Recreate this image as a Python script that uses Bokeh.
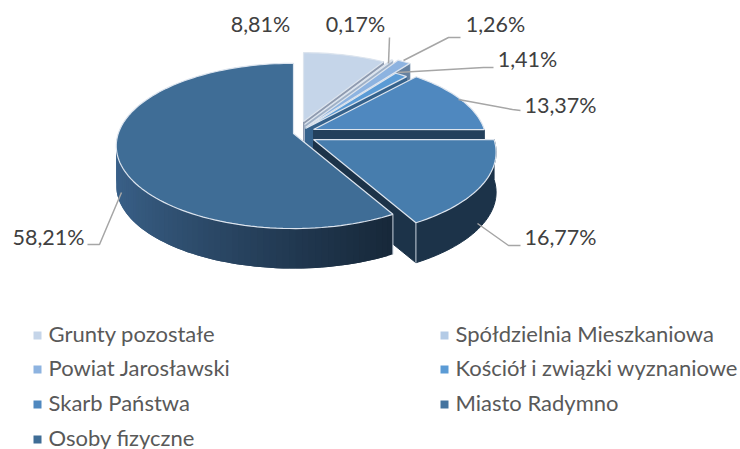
import math
from bokeh.plotting import figure
from bokeh.models import Range1d
from bokeh.core.properties import value
from bokeh.embed import file_html
from bokeh.resources import INLINE

# --- data ---
categories = ["Grunty pozostałe", "Spółdzielnia Mieszkaniowa", "Powiat Jarosławski",
              "Kościół i związki wyznaniowe", "Skarb Państwa", "Miasto Radymno", "Osoby fizyczne"]
shares = [8.81, 0.17, 1.26, 1.41, 13.37, 16.77, 58.21]
value_labels = ["8,81%", "0,17%", "1,26%", "1,41%", "13,37%", "16,77%", "58,21%"]

# --- style and layout ---
top_colors = ["#c5d5e9", "#b4cbe6", "#8db3e0", "#5b9bd5", "#4f88bf", "#477dad", "#3f6d96"]
legend_colors = ["#c5d5e9", "#b4cbe6", "#8db3e0", "#5b9bd5", "#4f88bf", "#44749f", "#3f6d96"]
end_wall_colors = ["#8f9bb0", "#9fb0c6", "#64809f", "#35628c", "#23405c", "#1c3349", None]
apex = [(303, 121), (304, 124), (305, 127), (305, 128), (313, 129), (313, 139), (293, 133)]
radius_scale = [0.97, 1.05, 1.10, 0.95, 0.965, 1.02, 0.99]
A, B, G, DEPTH = 177.0, 81.6, 0.15, 40.0
label_pos = [(260, 23), (355, 23), (495, 23), (527, 58), (560, 104), (560, 236), (48, 236)]
leaders = [None,
           [(389, 37), (388, 63)],
           [(460, 37), (448, 37), (403, 60)],
           [(493, 67), (483, 67), (397, 72)],
           [(520, 110), (512, 109), (458, 99)],
           [(520, 245), (508, 245), (477, 223)],
           [(87, 244), (99, 244), (121, 192)]]
legend_pos = [(48, 333), (455, 333), (48, 367), (455, 367), (48, 402), (455, 402), (48, 437)]
LABEL_SIZE = "21.5px"
LEGEND_SIZE = "22px"
FONT = "Lato"


def rim(i, frac_pct):
    th = math.radians(frac_pct * 3.6)
    X, Y = math.sin(th), math.cos(th)
    w = 1 + G * Y
    s = radius_scale[i]
    return apex[i][0] + s * A * X / w, apex[i][1] - s * B * Y / w


def mix(c1, c2, t):
    a = [int(c1[k:k + 2], 16) for k in (1, 3, 5)]
    b = [int(c2[k:k + 2], 16) for k in (1, 3, 5)]
    return "#%02x%02x%02x" % tuple(round(u + (v - u) * t) for u, v in zip(a, b))


p = figure(width=740, height=449, x_range=Range1d(0, 740), y_range=Range1d(449, 0),
           output_backend="svg", toolbar_location=None, min_border=0,
           outline_line_color=None, background_fill_color="white", border_fill_color="white")
p.axis.visible = False
p.grid.visible = False

start = 0.0
for i, s in enumerate(shares):
    end = start + s
    n = max(3, int(s * 2))
    arc = [rim(i, start + (end - start) * k / n) for k in range(n + 1)]
    ax, ay = apex[i]
    # outward wall for the front slices
    if i == 5:
        xs, ys = zip(*arc)
        p.patch(list(xs) + list(xs)[::-1], list(ys) + [y + DEPTH for y in ys][::-1],
                fill_color="#1c3349", line_color="#1c3349", line_width=1)
    if i == 6:
        strip_x, strip_y, strip_c = [], [], []
        xmin, xmax = 116.0, 392.0
        for k in range(n):
            (x0, y0), (x1, y1) = arc[k], arc[k + 1]
            if y0 < 140 and y1 < 140:
                continue
            (x2, y2) = arc[min(k + 2, n)]
            strip_x.append([x0, x1, x2, x2, x1, x0])
            strip_y.append([y0, y1, y2, y2 + DEPTH, y1 + DEPTH, y0 + DEPTH])
            t = (x0 - xmin) / (xmax - xmin)
            strip_c.append(mix("#3a6189", "#17283a", min(1, max(0, t)) ** 0.8))
        p.patches(strip_x, strip_y, fill_color=strip_c, line_color=None)
    # wall on the clockwise cut
    if end_wall_colors[i]:
        ex, ey = arc[-1]
        p.patch([ax, ex, ex, ax], [ay, ey, ey + DEPTH, ay + DEPTH],
                fill_color=end_wall_colors[i], line_color=end_wall_colors[i], line_width=1)
    # top face
    p.patch([ax] + [q[0] for q in arc], [ay] + [q[1] for q in arc],
            fill_color=top_colors[i], line_color="#dce4ee", line_width=1.2)
    if i >= 5:
        ex, ey = arc[0] if i == 6 else arc[-1]
        p.line([ex, ex], [ey, ey + DEPTH], line_color="#c9d3de", line_width=1)
    start = end

for path in leaders:
    if path:
        p.line([q[0] for q in path], [q[1] for q in path], line_color="#a6a6a6", line_width=1.5)

p.text([q[0] for q in label_pos], [q[1] for q in label_pos], text=value_labels,
       text_font=value(FONT), text_font_size=value(LABEL_SIZE), text_color="#404040",
       text_align="center", text_baseline="middle")

p.text([q[0] for q in legend_pos], [q[1] for q in legend_pos], text=categories,
       text_font=value(FONT), text_font_size=value(LEGEND_SIZE), text_color="#595959",
       text_align="left", text_baseline="middle")
p.scatter([q[0] - 11 for q in legend_pos], [q[1] + 2 for q in legend_pos], marker="square", size=8,
          fill_color=legend_colors, line_color=None)

open("out.html", "w").write(file_html(p, INLINE))
